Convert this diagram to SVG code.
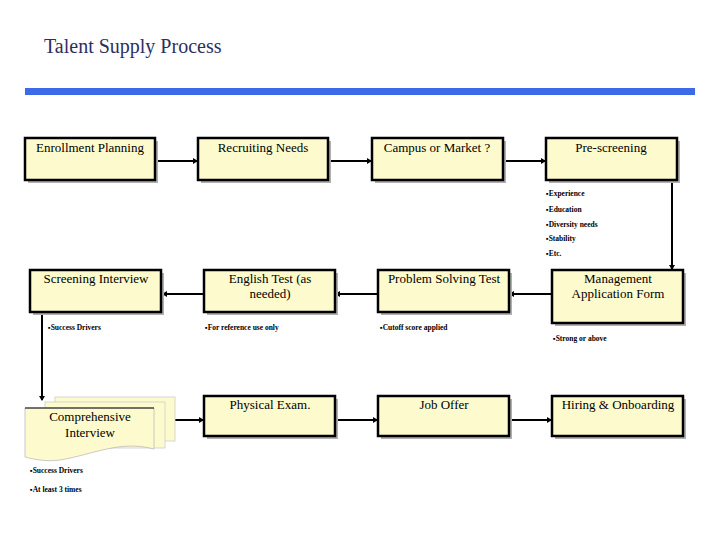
<svg xmlns="http://www.w3.org/2000/svg" width="720" height="540" viewBox="0 0 720 540">
<defs>
<style>
.box{fill:#fdfbcd;stroke:#000;stroke-width:2.5}
.sh{fill:#b0b0b0}
.lbl{font-size:13px;fill:#000;text-anchor:middle}
.note{font-size:7.5px;font-weight:bold;fill:#000}
.con{stroke:#000;stroke-width:2;fill:none;marker-end:url(#ah)}
</style>
<marker id="ah" markerWidth="5" markerHeight="6" refX="4" refY="3" orient="auto" markerUnits="userSpaceOnUse"><path d="M0,0 L5,3 L0,6 Z" fill="#000"/></marker>
</defs>
<rect width="720" height="540" fill="#fff"/>
<text x="44" y="53" font-family="Liberation Serif, serif" font-size="20" fill="#2e2e5e">Talent Supply Process</text>
<rect x="25" y="88" width="670" height="7" fill="#3c6ae8"/>
<g id="connectors">
<line class="con" x1="155" y1="161" x2="197" y2="161"/>
<line class="con" x1="328" y1="161" x2="371" y2="161"/>
<line class="con" x1="503" y1="161" x2="545" y2="161"/>
<line class="con" x1="672" y1="180" x2="672" y2="269"/>
<line class="con" x1="552" y1="294" x2="510" y2="294"/>
<line class="con" x1="378" y1="294" x2="336" y2="294"/>
<line class="con" x1="204" y1="294" x2="163" y2="294"/>
<line class="con" x1="42" y1="312" x2="42" y2="400"/>
<line class="con" x1="175" y1="420" x2="203" y2="420"/>
<line class="con" x1="335" y1="420" x2="377" y2="420"/>
<line class="con" x1="509" y1="420" x2="551" y2="420"/>
</g>
<g font-family="Liberation Serif, serif">
<g id="n1"><rect class="sh" x="28" y="141" width="130" height="42"/><rect class="box" x="25" y="138" width="130" height="42"/><text class="lbl" x="90" y="152">Enrollment Planning</text></g>
<g id="n2"><rect class="sh" x="201" y="141" width="130" height="42"/><rect class="box" x="198" y="138" width="130" height="42"/><text class="lbl" x="263" y="152">Recruiting Needs</text></g>
<g id="n3"><rect class="sh" x="375" y="141" width="131" height="42"/><rect class="box" x="372" y="138" width="131" height="42"/><text class="lbl" x="437" y="152">Campus or Market ?</text></g>
<g id="n4"><rect class="sh" x="549" y="141" width="131" height="42"/><rect class="box" x="546" y="138" width="131" height="42"/><text class="lbl" x="611" y="152">Pre-screening</text>
<text class="note" x="546" y="196">▪Experience</text><text class="note" x="546" y="212">▪Education</text><text class="note" x="546" y="227">▪Diversity needs</text><text class="note" x="546" y="241">▪Stability</text><text class="note" x="546" y="256">▪Etc.</text></g>
<g id="n5"><rect class="sh" x="33" y="273" width="131" height="42"/><rect class="box" x="30" y="270" width="131" height="42"/><text class="lbl" x="96" y="283">Screening Interview</text><text class="note" x="48" y="330">▪Success Drivers</text></g>
<g id="n6"><rect class="sh" x="207" y="273" width="131" height="42"/><rect class="box" x="204" y="270" width="131" height="42"/><text class="lbl" x="270" y="283">English Test (as</text><text class="lbl" x="270" y="298">needed)</text><text class="note" x="205" y="330">▪For reference use only</text></g>
<g id="n7"><rect class="sh" x="381" y="273" width="131" height="42"/><rect class="box" x="378" y="270" width="131" height="42"/><text class="lbl" x="444" y="283">Problem Solving Test</text><text class="note" x="380" y="330">▪Cutoff score applied</text></g>
<g id="n8"><rect class="sh" x="555" y="273" width="131" height="53"/><rect class="box" x="552" y="270" width="131" height="53"/><text class="lbl" x="618" y="283">Management</text><text class="lbl" x="618" y="298">Application Form</text><text class="note" x="553" y="341">▪Strong or above</text></g>
<g id="n9">
<rect x="55" y="397" width="120" height="44" fill="#fdfbcd" stroke="#ccc" stroke-width="0.8"/>
<rect x="45" y="402" width="120" height="46" fill="#fdfbcd" stroke="#ccc" stroke-width="0.8"/>
<path d="M25,408 H154 V449 C120,440 95,454 60,460 C45,462 33,459 25,457 Z" fill="#fdfbcd" stroke="#bbb" stroke-width="0.8"/>
<line x1="25" y1="408" x2="154" y2="408" stroke="#000" stroke-width="1"/>
<text class="lbl" x="90" y="421" font-size="12">Comprehensive</text><text class="lbl" x="90" y="437" font-size="12">Interview</text>
<text class="note" x="30" y="473">▪Success Drivers</text><text class="note" x="30" y="492">▪At least 3 times</text></g>
<g id="n10"><rect class="sh" x="207" y="399" width="131" height="40"/><rect class="box" x="204" y="396" width="131" height="40"/><text class="lbl" x="270" y="409">Physical Exam.</text></g>
<g id="n11"><rect class="sh" x="381" y="399" width="131" height="40"/><rect class="box" x="378" y="396" width="131" height="40"/><text class="lbl" x="444" y="409">Job Offer</text></g>
<g id="n12"><rect class="sh" x="555" y="399" width="131" height="40"/><rect class="box" x="552" y="396" width="131" height="40"/><text class="lbl" x="618" y="409">Hiring &amp; Onboarding</text></g>
</g>
</svg>
